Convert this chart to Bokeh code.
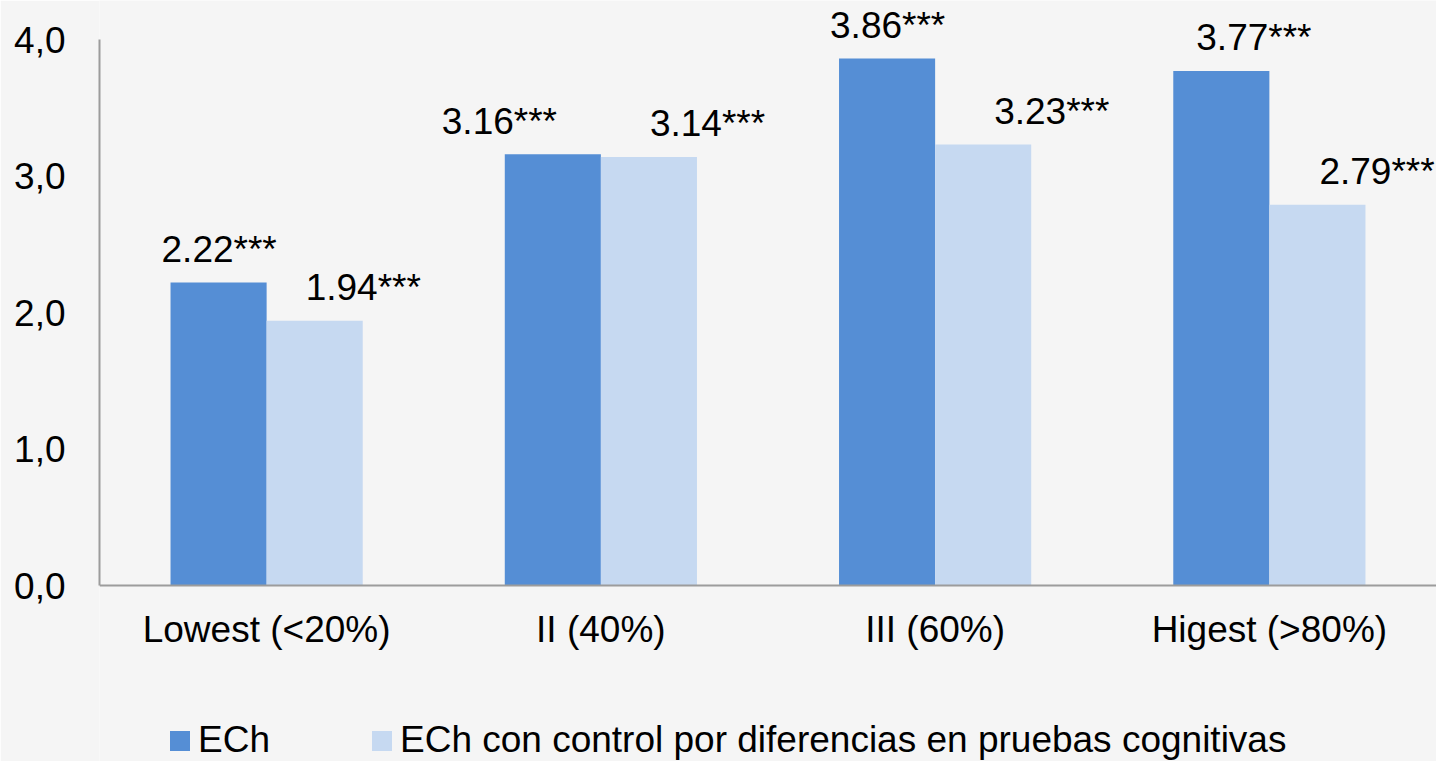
from bokeh.plotting import figure
from bokeh.models import ColumnDataSource, FactorRange, Range1d, FixedTicker, Legend, LegendItem
from bokeh.transform import dodge
from bokeh.core.properties import value
from bokeh.embed import file_html
from bokeh.resources import INLINE

# ---- data ----
categories = ["Lowest (<20%)", "II (40%)", "III (60%)", "Higest (>80%)"]
series_names = ["ECh", "ECh con control por diferencias en pruebas cognitivas"]
ech = [2.22, 3.16, 3.86, 3.77]
ech_control = [1.94, 3.14, 3.23, 2.79]
ech_labels = ["2.22***", "3.16***", "3.86***", "3.77***"]
control_labels = ["1.94***", "3.14***", "3.23***", "2.79***"]
y_ticks = [0, 1, 2, 3, 4]
y_tick_labels = ["0,0", "1,0", "2,0", "3,0", "4,0"]

# ---- layout / style (label pixel offsets from each bar's left edge) ----
ech_label_dx = [-9, -63, -9, 23]
control_label_dx = [39, 49, 59, 50]

FONT = "Liberation Sans"
FS = "37px"
DARK = "#558ED5"
LIGHT = "#C6D9F1"
BG = "#F5F5F5"
AXIS = "#9C9C9C"
BAR_W = 0.2875
W, H = 1436, 761
LEFT = 99          # y-axis position (px)
ZERO_Y = 585       # pixel row of value 0
PX_PER_UNIT = 136.5

src = ColumnDataSource(dict(
    cat=categories, ech=ech, ctrl=ech_control,
    ech_lab=ech_labels, ctrl_lab=control_labels,
    ech_dx=ech_label_dx, ctrl_dx=control_label_dx,
))

p = figure(
    width=W, height=H,
    x_range=FactorRange(factors=categories, range_padding=0),
    y_range=Range1d(-(H - ZERO_Y) / PX_PER_UNIT, ZERO_Y / PX_PER_UNIT),
    output_backend="svg", toolbar_location=None,
    min_border_left=LEFT, min_border_right=0, min_border_top=0, min_border_bottom=0,
)
p.background_fill_color = BG
p.border_fill_color = BG
p.outline_line_color = None
p.xgrid.visible = False
p.ygrid.visible = False

r1 = p.vbar(x=dodge("cat", -BAR_W / 2, range=p.x_range), top="ech", width=BAR_W,
            source=src, fill_color=DARK, line_color=None)
r2 = p.vbar(x=dodge("cat", BAR_W / 2, range=p.x_range), top="ctrl", width=BAR_W,
            source=src, fill_color=LIGHT, line_color=None)

p.text(x=dodge("cat", -BAR_W, range=p.x_range), y="ech", text="ech_lab", source=src,
       x_offset="ech_dx", y_offset=-33, text_align="left", text_baseline="alphabetic",
       text_font=value(FONT), text_font_size=FS, text_color="black")
p.text(x=dodge("cat", 0, range=p.x_range), y="ctrl", text="ctrl_lab", source=src,
       x_offset="ctrl_dx", y_offset=-33, text_align="left", text_baseline="alphabetic",
       text_font=value(FONT), text_font_size=FS, text_color="black")

# axes
for ax in (p.xaxis[0], p.yaxis[0]):
    ax.axis_line_color = AXIS
    ax.axis_line_width = 2
    ax.major_tick_line_color = None
    ax.minor_tick_line_color = None
    ax.major_tick_out = 0
    ax.major_tick_in = 0
    ax.major_label_text_font = FONT
    ax.major_label_text_font_size = FS
    ax.major_label_text_color = "black"

p.xaxis.fixed_location = 0
p.xaxis.major_label_standoff = 23
p.yaxis.major_label_standoff = 34
p.yaxis.bounds = (0, 4)
p.yaxis.ticker = FixedTicker(ticks=y_ticks)
p.yaxis.major_label_overrides = {t: l for t, l in zip(y_ticks, y_tick_labels)}

legend = Legend(
    items=[LegendItem(label=series_names[0], renderers=[r1]),
           LegendItem(label=series_names[1], renderers=[r2])],
    location=(68, 0), orientation="horizontal",
    glyph_width=25, glyph_height=25, label_standoff=6, spacing=99,
    padding=0, margin=0,
    label_text_font=FONT, label_text_font_size=FS, label_text_color="black",
    background_fill_alpha=0, border_line_alpha=0,
)
p.add_layout(legend, "center")

open("out.html", "w").write(file_html(p, INLINE))
